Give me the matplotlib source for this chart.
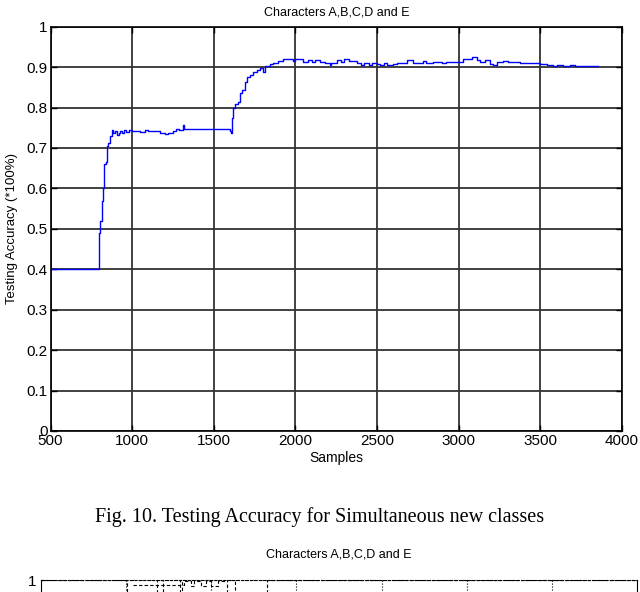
import matplotlib.pyplot as plt

plt.rcParams['font.family'] = ['Liberation Sans', 'DejaVu Sans']

# testing accuracy vs samples (step curve)
samples = [500, 797, 803, 814, 820, 828, 838, 844, 854, 865, 875, 883, 895, 906, 918,
           927, 939, 950, 962, 981, 1000, 1020, 1050, 1080, 1100, 1140, 1170, 1200,
           1220, 1250, 1270, 1290, 1310, 1320, 1380, 1450, 1500, 1560, 1600, 1607,
           1614, 1620, 1630, 1650, 1661, 1675, 1692, 1702, 1722, 1743, 1763, 1784,
           1800, 1814, 1845, 1865, 1896, 1925, 1986, 2000, 2047, 2080, 2100, 2120,
           2151, 2180, 2210, 2220, 2255, 2280, 2300, 2330, 2378, 2400, 2420, 2450,
           2470, 2500, 2520, 2540, 2560, 2600, 2623, 2684, 2721, 2782, 2800, 2843,
           2900, 2920, 2950, 3027, 3040, 3080, 3113, 3130, 3160, 3193, 3210, 3236,
           3272, 3300, 3377, 3499, 3542, 3580, 3600, 3640, 3680, 3714, 3806, 3855]
accuracy = [0.40, 0.49, 0.52, 0.57, 0.60, 0.66, 0.665, 0.705, 0.713, 0.73, 0.745, 0.738,
            0.742, 0.732, 0.738, 0.741, 0.736, 0.744, 0.739, 0.744, 0.741, 0.742, 0.740,
            0.744, 0.742, 0.742, 0.736, 0.734, 0.736, 0.742, 0.747, 0.745, 0.757, 0.748,
            0.748, 0.747, 0.747, 0.746, 0.742, 0.738, 0.773, 0.798, 0.81, 0.814, 0.835,
            0.843, 0.864, 0.876, 0.88, 0.888, 0.892, 0.897, 0.888, 0.902, 0.907, 0.911,
            0.915, 0.919, 0.915, 0.919, 0.913, 0.917, 0.913, 0.917, 0.913, 0.91, 0.905,
            0.91, 0.918, 0.912, 0.92, 0.915, 0.91, 0.906, 0.91, 0.906, 0.91, 0.908, 0.905,
            0.91, 0.905, 0.908, 0.91, 0.917, 0.91, 0.915, 0.91, 0.913, 0.91, 0.913, 0.913,
            0.92, 0.921, 0.924, 0.917, 0.913, 0.917, 0.908, 0.905, 0.913, 0.915, 0.913,
            0.91, 0.908, 0.905, 0.902, 0.905, 0.902, 0.905, 0.903, 0.902, 0.902]

# second (cut off) chart: only the very top is visible
samples2 = [500, 1006, 1182, 1218, 1318, 1329, 1594, 1641, 1829, 4000]
accuracy2 = [1.0, 0.3, 1.0, 0.3, 1.0, 0.3, 1.0, 0.3, 1.0, 1.0]
samples3 = [1040, 1150, 1230, 1300, 1340, 1380, 1400, 1440, 1470, 1500, 1540, 1590]
accuracy3 = [0.98, 0.98, 0.98, 0.98, 0.995, 0.975, 0.995, 0.975, 0.995, 0.975, 0.995, 0.995]

xticks = [500, 1000, 1500, 2000, 2500, 3000, 3500, 4000]
yticks = [0, 0.1, 0.2, 0.3, 0.4, 0.5, 0.6, 0.7, 0.8, 0.9, 1]
ylabels = ['0', '0.1', '0.2', '0.3', '0.4', '0.5', '0.6', '0.7', '0.8', '0.9', '1']

fig = plt.figure(figsize=(6.4, 5.92), dpi=100)

ax = fig.add_axes([50.5 / 640, 1 - 431 / 592, 571.5 / 640, (431 - 26.7) / 592])
ax.plot(samples, accuracy, color='#0000ff', lw=1, drawstyle='steps-post')
ax.set_xlim(500, 4000)
ax.set_ylim(0, 1)
ax.set_xticks(xticks)
ax.set_yticks(yticks)
ax.set_yticklabels(ylabels)
ax.grid(True, color='#333333', lw=1.3)
ax.tick_params(direction='in', length=4, width=1, labelsize=11, pad=2,
               top=True, right=True)
for s in ax.spines.values():
    s.set_linewidth(1.2)
ax.set_title('Characters A,B,C,D and E', fontsize=9, pad=8)
ax.set_xlabel('Samples', fontsize=10, labelpad=2)
ax.set_ylabel('Testing Accuracy (*100%)', fontsize=9.5, labelpad=6)

fig.text(0.5, 1 - 517 / 592, 'Fig. 10. Testing Accuracy for Simultaneous new classes',
         ha='center', va='center', fontsize=14.5, family=['Liberation Serif', 'DejaVu Serif'])

ax2 = fig.add_axes([41 / 640, 1 - 580 / 592 - 0.4, 596 / 640, 0.4])
ax2.plot(samples2, accuracy2, color='black', lw=0.8, ls=(0, (3, 2)), drawstyle='steps-post')
ax2.plot(samples3, accuracy3, color='black', lw=0.8, ls=(0, (3, 2)), drawstyle='steps-post')
ax2.set_xlim(500, 4000)
ax2.set_ylim(0, 1)
ax2.set_xticks(xticks)
ax2.set_yticks([1])
ax2.set_yticklabels(['1'])
ax2.grid(True, color='black', lw=0.8, ls=':')
ax2.spines['top'].set_linestyle((0, (2, 2)))
ax2.tick_params(direction='in', length=3, labelsize=11, pad=3, labelbottom=False)
ax2.set_title('Characters A,B,C,D and E', fontsize=9, pad=16)

fig.savefig('out.png', dpi=100)
